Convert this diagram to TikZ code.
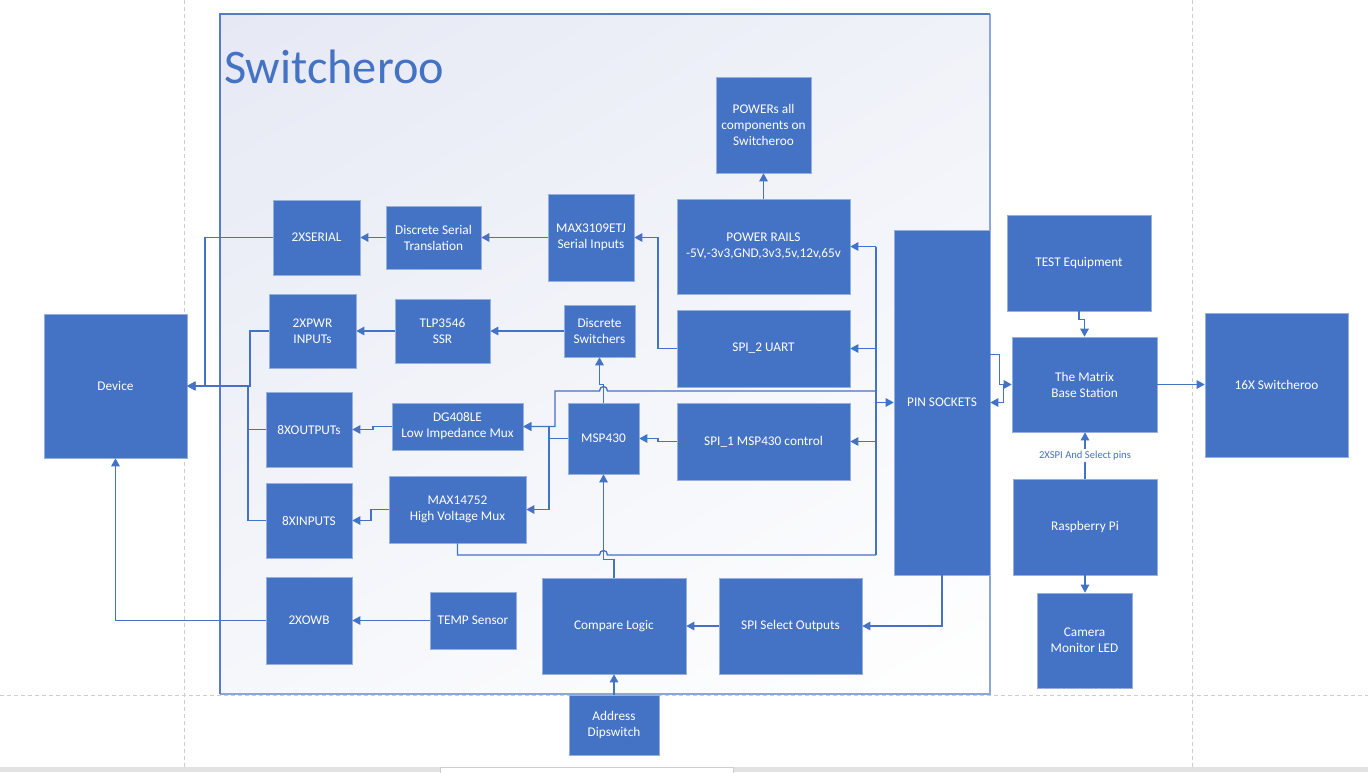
\documentclass[tikz,border=0pt]{standalone}
\usepackage{fontspec}
\setmainfont{Carlito}
\usetikzlibrary{arrows.meta,calc,shadings}
\definecolor{bx}{RGB}{68,114,196}
\definecolor{bxedge}{RGB}{150,176,222}
\definecolor{guide}{RGB}{205,205,205}
\definecolor{bgA}{RGB}{230,233,244}
\definecolor{bgB}{RGB}{240,242,249}
\definecolor{bgC}{RGB}{246,247,251}
\definecolor{frmA}{RGB}{84,124,200}
\definecolor{frmB}{RGB}{140,166,216}
\definecolor{barg}{RGB}{226,226,226}
\tikzset{
  blk/.style={draw=bxedge, line width=0.6pt, fill=bx, text=white,
    font=\fontsize{13.3}{16}\selectfont, align=center, inner sep=0pt},
  ln/.style={draw=bx, line width=1.3pt},
  arr/.style={ln, -{Triangle[length=8pt,width=8.5pt]}},
  lbl/.style={fill=white, text=bx, font=\fontsize{10.6}{12}\selectfont, inner sep=1.5pt},
  guideline/.style={draw=guide, line width=0.8pt, dash pattern=on 4pt off 3pt}
}
\newcommand\blkbox[6]{\node[blk, minimum width={#4-#2}, minimum height={#5-#3}] (#1) at ({(#2+#4)/2},{(#3+#5)/2}) {#6};}
\begin{document}
\begin{tikzpicture}[x=1pt,y=-1pt]
\useasboundingbox (0,0) rectangle (1368,772);
\fill[white] (0,0) rectangle (1368,772);
% page guides
\draw[guideline] (184,0) -- (184,767);
\draw[guideline] (1192,0) -- (1192,767);
\draw[guideline] (0,695) -- (1368,695);
% container
\shade[upper left=bgA, upper right=bgB, lower left=bgC, lower right=white] (220,14) rectangle (990,694);
\draw[frmB, line width=1.2pt] (990,14) -- (990,694) -- (220,694);
\draw[frmA, line width=1.2pt] (220,694) -- (220,14) -- (990,14);
\node[anchor=base west, inner sep=0pt, text=bx, font=\fontsize{48.3}{50}\selectfont] (title) at (224,83) {Switcheroo};
% bottom bar
\fill[barg] (0,767) rectangle (1368,772);
\filldraw[fill=white, draw=guide, line width=0.6pt] (440,767.5) rectangle (733,773);
% blocks
\blkbox{device}{44}{314}{187}{458}{Device}
\blkbox{serialtwo}{273}{200}{360}{275}{2XSERIAL}
\blkbox{pwrtwo}{269}{294}{356}{368}{2XPWR\\INPUTs}
\blkbox{outeight}{266}{392}{352}{467}{8XOUTPUTs}
\blkbox{ineight}{266}{483}{352}{558}{8XINPUTS}
\blkbox{owb}{266}{577}{352}{664}{2XOWB}
\blkbox{dst}{386}{206}{481}{269}{Discrete Serial\\Translation}
\blkbox{tlp}{395}{299}{490}{363}{TLP3546\\SSR}
\blkbox{dg}{392}{403}{523}{450}{DG408LE\\Low Impedance Mux}
\blkbox{mxf}{389}{476}{526}{543}{MAX14752\\High Voltage Mux}
\blkbox{temp}{430}{592}{516}{649}{TEMP Sensor}
\blkbox{maxser}{548}{194}{634}{281}{MAX3109ETJ\\Serial Inputs}
\blkbox{dsw}{564}{305}{635}{357}{Discrete\\Switchers}
\blkbox{msp}{568}{403}{639}{474}{MSP430}
\blkbox{cmp}{542}{578}{686}{674}{Compare Logic}
\blkbox{addr}{569}{695}{659}{755}{Address\\Dipswitch}
\blkbox{powall}{716}{77}{811}{173}{POWERs all\\components on\\Switcheroo}
\blkbox{rails}{677}{199}{850}{294}{POWER RAILS\\-5V,-3v3,GND,3v3,5v,12v,65v}
\blkbox{spitwo}{677}{310}{850}{387}{SPI\_2 UART}
\blkbox{spione}{677}{403}{850}{480}{SPI\_1 MSP430 control}
\blkbox{sso}{719}{578}{862}{674}{SPI Select Outputs}
\blkbox{pins}{894}{230}{990}{575}{PIN SOCKETS}
\blkbox{test}{1007}{215}{1151}{311}{TEST Equipment}
\blkbox{matrix}{1012}{337}{1157}{432}{The Matrix\\Base Station}
\blkbox{rpi}{1013}{479}{1157}{575}{Raspberry Pi}
\blkbox{cam}{1037}{593}{1132}{688}{Camera\\Monitor LED}
\blkbox{swsixteen}{1205}{313}{1348}{457}{16X Switcheroo}
% bus coordinates
\coordinate (bt) at (876,246.5);
\coordinate (bb) at (876,555);
\coordinate (hb) at (876,391);
\coordinate (mj) at (549,438.5);
% connectors
\draw[arr] (rails.north) -- (powall.south);
\draw[ln] (bt) -- (bb);
\draw[arr] (bt) -- (bt -| rails.east);
\draw[arr] (bt |- spitwo.east) -- (spitwo.east);
\draw[arr] (bt |- spione.east) -- (spione.east);
\draw[arr] (bt |- pins.west) -- (pins.west);
\draw[arr] (hb) -- ($(msp.north |- hb)+(4,0)$) .. controls +(0,-6) and +(0,-6) .. ($(msp.north |- hb)+(-4,0)$) -- (555,391) |- (dg.east);
\draw[arr] (msp.north) -- ++(0,-18) -| (dsw.south);
\draw[arr] (msp.west) -- (mj) |- (dg.east);
\draw[arr] (msp.west) -- (mj) |- (mxf.east);
\draw[ln] (mxf.south) |- ($(msp.south |- bb)+(-4,0)$) .. controls +(0,-6) and +(0,-6) .. ($(msp.south |- bb)+(4,0)$) -- (bb);
\draw[arr] (cmp.north) -- ++(0,-18) -| (msp.south);
\draw[arr] (spione.west) -- (658,441.5) |- (msp.east);
\draw[arr] (spitwo.west) -- (658,348.5) |- (maxser.east);
\draw[arr] (maxser.west) -- (dst.east);
\draw[arr] (dst.west) -- (serialtwo.east);
\draw[arr] (dsw.west) -- (tlp.east);
\draw[arr] (tlp.west) -- (pwrtwo.east);
\draw[arr] (dg.west) -- (373,426.5) |- (outeight.east);
\draw[arr] (mxf.west) -- (371,509.5) |- (ineight.east);
\draw[arr] (serialtwo.west) -- (205,237.5) |- (device.east);
\draw[arr] (pwrtwo.west) -- (250,331) |- (device.east);
\draw[arr] (outeight.west) -- (248,429.5) |- (device.east);
\draw[arr] (ineight.west) -- (248,520.5) |- (device.east);
\draw[arr] (temp.west) -- (owb.east);
\draw[arr] (owb.west) -| (device.south);
\draw[arr] (addr.north) -- (cmp.south);
\draw[arr] (pins.south) |- (sso.east);
\draw[arr] (sso.west) -- (cmp.east);
\draw[arr] ($(pins.north east)+(0,125)$) -- ++(9,0) |- (matrix.west);
\draw[arr] ($(matrix.west)+(-8,0)$) |- (pins.east);
\draw[arr] (test.south) -- ++(0,8) -| (matrix.north);
\draw[arr] (rpi.north) -- node[lbl, pos=0.5] {2XSPI And Select pins} (rpi.north |- matrix.south);
\draw[arr] (rpi.south) -- (rpi.south |- cam.north);
\draw[arr] (matrix.east) -- (matrix.east -| swsixteen.west);
\end{tikzpicture}
\end{document}
